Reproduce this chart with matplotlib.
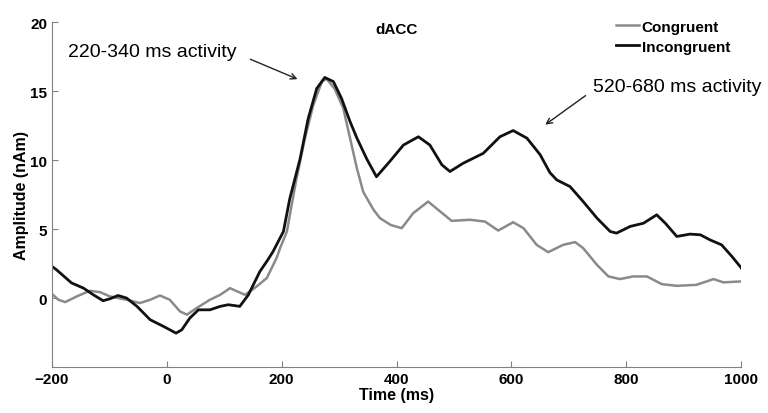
import matplotlib
matplotlib.use('Agg')
import matplotlib.pyplot as plt

plt.rcParams['font.family'] = ['Liberation Sans', 'DejaVu Sans']

# time (ms) and amplitude (nAm)
t_incong = [-200, -192, -166, -145, -128, -111, -99, -85, -70, -52, -29, -6, 16, 26,
            40, 55, 75, 93, 107, 127, 142, 162, 174, 185, 197, 203, 214, 232, 246,
            261, 275, 290, 304, 319, 331, 348, 365, 388, 412, 438, 458, 479, 493,
            516, 551, 580, 603, 627, 650, 667, 679, 702, 725, 749, 772, 783, 807,
            830, 853, 868, 888, 911, 929, 946, 966, 984, 1000]
incong = [2.3, 2.05, 1.1, 0.72, 0.24, -0.19, -0.05, 0.19, 0.0, -0.6, -1.57, -2.05, -2.54, -2.3,
          -1.45, -0.85, -0.85, -0.6, -0.48, -0.6, 0.24, 1.93, 2.66, 3.38, 4.35, 4.83, 7.2, 10.1, 13.0,
          15.2, 16.0, 15.7, 14.5, 12.8, 11.6, 10.1, 8.8, 9.9, 11.1, 11.7, 11.1, 9.66, 9.18,
          9.78, 10.5, 11.7, 12.15, 11.6, 10.4, 9.1, 8.57, 8.09, 7.0, 5.8, 4.83, 4.71, 5.2,
          5.43, 6.04, 5.43, 4.47, 4.64, 4.59, 4.22, 3.86, 3.02, 2.2]

t_cong = [-200, -189, -177, -157, -134, -116, -99, -70, -47, -29, -12, 5, 23, 35, 52,
          75, 93, 110, 136, 155, 174, 191, 197, 209, 225, 240, 255, 270, 278, 292,
          307, 319, 331, 342, 360, 371, 390, 409, 429, 455, 476, 496, 528, 554, 577,
          603, 621, 644, 664, 690, 711, 725, 749, 769, 789, 812, 836, 862, 888, 922,
          940, 952, 969, 1000]
cong = [0.3, -0.12, -0.29, 0.12, 0.53, 0.43, 0.12, -0.12, -0.36, -0.12, 0.19, -0.12, -0.97, -1.2, -0.72,
        -0.12, 0.24, 0.72, 0.24, 0.8, 1.45, 2.9, 3.6, 4.83, 8.5, 11.5, 14.0, 15.7, 15.9, 15.2,
        13.8, 11.6, 9.4, 7.7, 6.4, 5.8, 5.3, 5.07, 6.16, 7.0, 6.28, 5.6, 5.68, 5.55, 4.9,
        5.5, 5.07, 3.86, 3.33, 3.86, 4.06, 3.62, 2.41, 1.57, 1.38, 1.57, 1.57, 1.01, 0.89, 0.96,
        1.21, 1.38, 1.14, 1.21]

fig = plt.figure(figsize=(7.68, 4.14), dpi=100)
ax = fig.add_axes([0.0677, 0.111, 0.8973, 0.8327])

ax.plot(t_cong, cong, color='#8a8a8a', lw=1.8, label='Congruent')
ax.plot(t_incong, incong, color='#111111', lw=2.0, label='Incongruent')

ax.set_xlim(-200, 1000)
ax.set_ylim(-5, 20)
ax.set_xticks([-200, 0, 200, 400, 600, 800, 1000])
ax.set_yticks([0, 5, 10, 15, 20])
for s in ['top', 'right']:
    ax.spines[s].set_visible(False)
for s in ['left', 'bottom']:
    ax.spines[s].set_color('#808080')
ax.tick_params(direction='in', length=4, color='#808080', labelsize=11)
for lab in ax.get_xticklabels() + ax.get_yticklabels():
    lab.set_fontweight('bold')

ax.set_xlabel('Time (ms)', fontsize=11.5, fontweight='bold', labelpad=1)
ax.set_ylabel('Amplitude (nAm)', fontsize=11.5, fontweight='bold', labelpad=1)
ax.text(400, 19.5, 'dACC', ha='center', va='center', fontsize=11, fontweight='bold')

ax.legend(loc='upper left', bbox_to_anchor=(608 / 768, 1 - 13 / 414),
          bbox_transform=fig.transFigure, frameon=False,
          handlelength=1.5, handletextpad=0.2, borderpad=0, labelspacing=0.4,
          prop={'weight': 'bold', 'size': 11})

ax.text(-172, 17.9, '220-340 ms activity', ha='left', va='center', fontsize=14)
ax.annotate('', xy=(232, 15.8), xytext=(141, 17.4),
            arrowprops=dict(arrowstyle='->', color='#222222', lw=1))
ax.text(742, 15.36, '520-680 ms activity', ha='left', va='center', fontsize=14)
ax.annotate('', xy=(655, 12.46), xytext=(733, 14.8),
            arrowprops=dict(arrowstyle='->', color='#222222', lw=1))

fig.savefig('out.png', dpi=100)
